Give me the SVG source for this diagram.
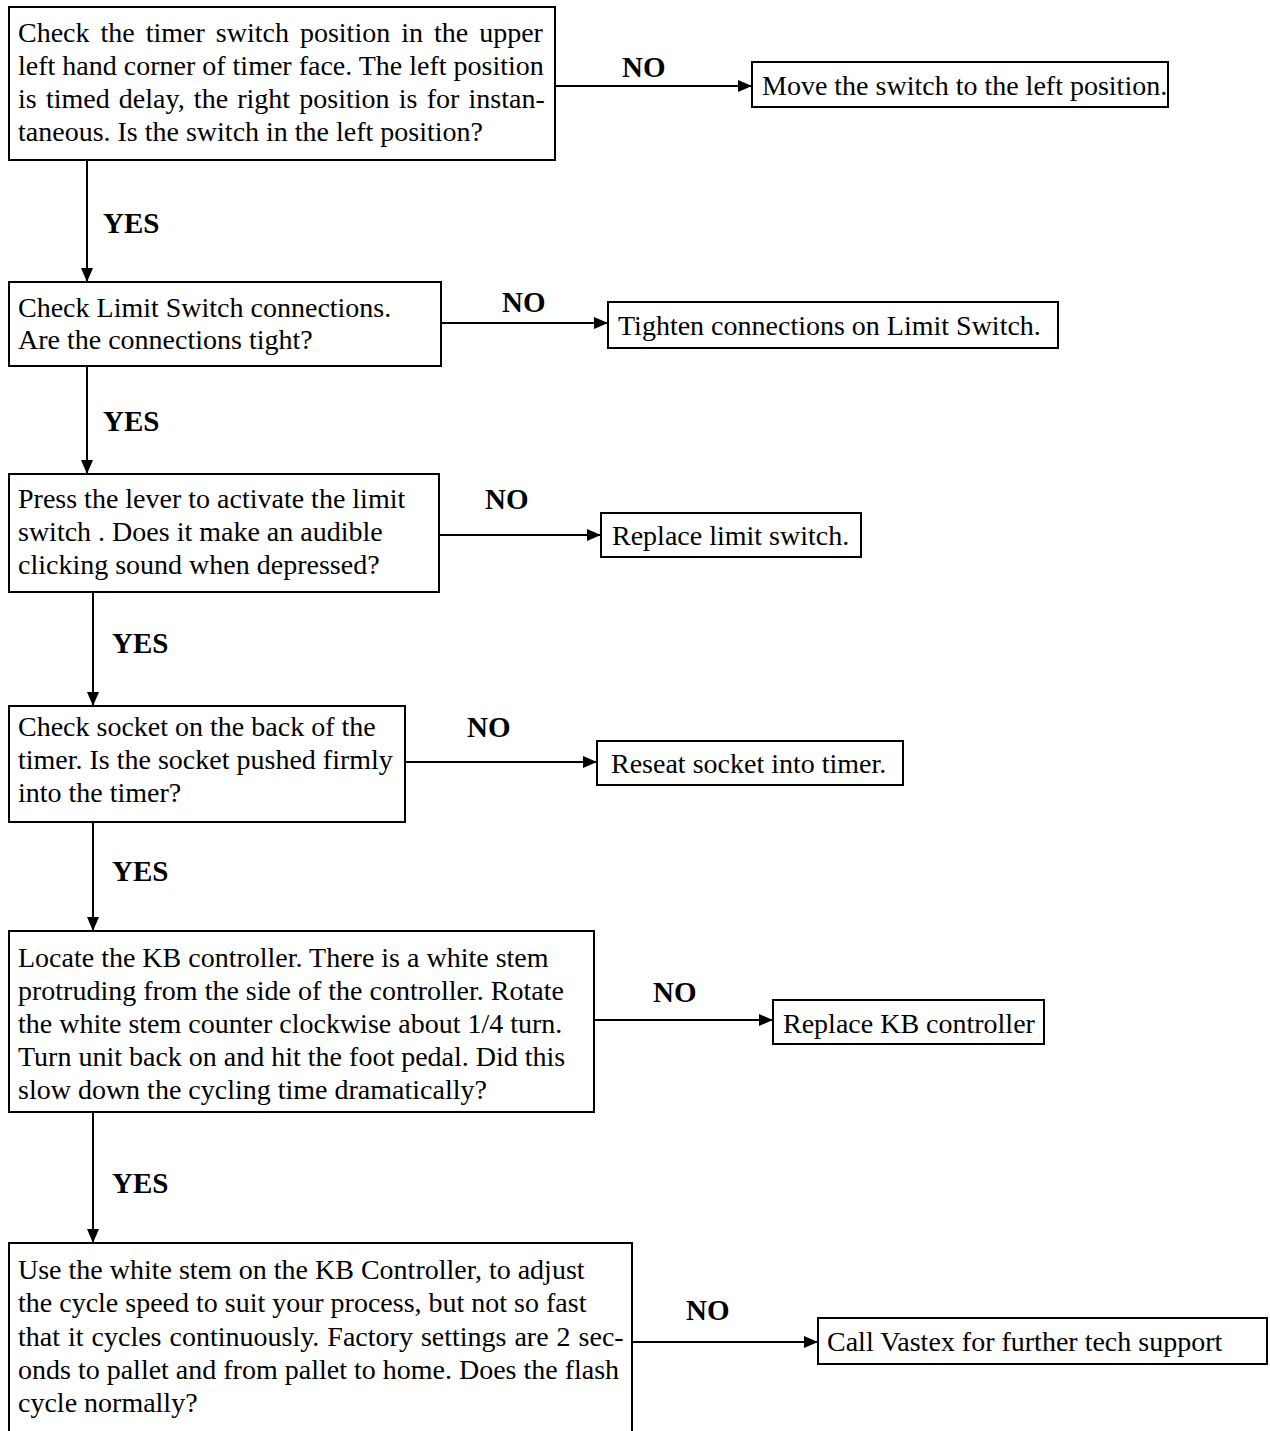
<svg xmlns="http://www.w3.org/2000/svg" width="1270" height="1431" viewBox="0 0 1270 1431">
<style>
.box{fill:#fff;stroke:#000;stroke-width:2}
.t{font-family:"Liberation Serif","Times New Roman",serif;font-size:28px;fill:#000}
.lbl{font-family:"Liberation Serif","Times New Roman",serif;font-size:29px;font-weight:bold;fill:#000}
.ln{stroke:#000;stroke-width:2;fill:none}
</style>
<defs>
<marker id="ah" viewBox="0 0 14 12" refX="14" refY="6" markerWidth="14" markerHeight="12" markerUnits="userSpaceOnUse" orient="auto">
<path d="M0,0 L14,6 L0,12 z" fill="#000"/>
</marker>
</defs>
<rect width="1270" height="1431" fill="#fff"/>
<g id="connectors">
<line class="ln" x1="555" y1="86" x2="752" y2="86" marker-end="url(#ah)"/>
<line class="ln" x1="87" y1="160" x2="87" y2="282" marker-end="url(#ah)"/>
<line class="ln" x1="441" y1="323" x2="608" y2="323" marker-end="url(#ah)"/>
<line class="ln" x1="87" y1="366" x2="87" y2="474" marker-end="url(#ah)"/>
<line class="ln" x1="439" y1="535" x2="601" y2="535" marker-end="url(#ah)"/>
<line class="ln" x1="93" y1="592" x2="93" y2="706" marker-end="url(#ah)"/>
<line class="ln" x1="403" y1="762" x2="597" y2="762" marker-end="url(#ah)"/>
<line class="ln" x1="93" y1="822" x2="93" y2="931" marker-end="url(#ah)"/>
<line class="ln" x1="594" y1="1020" x2="773" y2="1020" marker-end="url(#ah)"/>
<line class="ln" x1="93" y1="1112" x2="93" y2="1243" marker-end="url(#ah)"/>
<line class="ln" x1="632" y1="1342" x2="818" y2="1342" marker-end="url(#ah)"/>
<text class="lbl" x="622" y="77">NO</text>
<text class="lbl" x="103" y="233">YES</text>
<text class="lbl" x="502" y="312">NO</text>
<text class="lbl" x="103" y="431">YES</text>
<text class="lbl" x="485" y="509">NO</text>
<text class="lbl" x="112" y="653">YES</text>
<text class="lbl" x="467" y="737">NO</text>
<text class="lbl" x="112" y="881">YES</text>
<text class="lbl" x="653" y="1002">NO</text>
<text class="lbl" x="112" y="1193">YES</text>
<text class="lbl" x="686" y="1320">NO</text>
</g>
<g id="q1">
<rect class="box" x="9" y="7" width="546" height="153"/>
<text class="t" x="18" y="42" word-spacing="4">Check the timer switch position in the upper</text>
<text class="t" x="18" y="75">left hand corner of timer face. The left position</text>
<text class="t" x="18" y="108" word-spacing="2.2">is timed delay, the right position is for instan-</text>
<text class="t" x="18" y="141">taneous. Is the switch in the left position?</text>
</g>
<g id="a1">
<rect class="box" x="752" y="62" width="416" height="45"/>
<text class="t" x="762" y="95">Move the switch to the left position.</text>
</g>
<g id="q2">
<rect class="box" x="9" y="282" width="432" height="84"/>
<text class="t" x="18" y="317">Check Limit Switch connections.</text>
<text class="t" x="18" y="349">Are the connections tight?</text>
</g>
<g id="a2">
<rect class="box" x="608" y="302" width="450" height="46"/>
<text class="t" x="618" y="335">Tighten connections on Limit Switch.</text>
</g>
<g id="q3">
<rect class="box" x="9" y="474" width="430" height="118"/>
<text class="t" x="18" y="508">Press the lever to activate the limit</text>
<text class="t" x="18" y="541">switch . Does it make an audible</text>
<text class="t" x="18" y="574">clicking sound when depressed?</text>
</g>
<g id="a3">
<rect class="box" x="601" y="513" width="260" height="44"/>
<text class="t" x="612" y="545">Replace limit switch.</text>
</g>
<g id="q4">
<rect class="box" x="9" y="706" width="396" height="116"/>
<text class="t" x="18" y="736">Check socket on the back of the</text>
<text class="t" x="18" y="769">timer. Is the socket pushed firmly</text>
<text class="t" x="18" y="802">into the timer?</text>
</g>
<g id="a4">
<rect class="box" x="597" y="741" width="306" height="44"/>
<text class="t" x="611" y="773">Reseat socket into timer.</text>
</g>
<g id="q5">
<rect class="box" x="9" y="931" width="585" height="181"/>
<text class="t" x="18" y="967">Locate the KB controller. There is a white stem</text>
<text class="t" x="18" y="1000">protruding from the side of the controller. Rotate</text>
<text class="t" x="18" y="1033">the white stem counter clockwise about 1/4 turn.</text>
<text class="t" x="18" y="1066">Turn unit back on and hit the foot pedal. Did this</text>
<text class="t" x="18" y="1099">slow down the cycling time dramatically?</text>
</g>
<g id="a5">
<rect class="box" x="773" y="1000" width="271" height="44"/>
<text class="t" x="783" y="1033">Replace KB controller</text>
</g>
<g id="q6">
<rect class="box" x="9" y="1243" width="623" height="220"/>
<text class="t" x="18" y="1279">Use the white stem on the KB Controller, to adjust</text>
<text class="t" x="18" y="1312">the cycle speed to suit your process, but not so fast</text>
<text class="t" x="18" y="1346" word-spacing="1">that it cycles continuously. Factory settings are 2 sec-</text>
<text class="t" x="18" y="1379">onds to pallet and from pallet to home. Does the flash</text>
<text class="t" x="18" y="1412">cycle normally?</text>
</g>
<g id="a6">
<rect class="box" x="818" y="1318" width="449" height="46"/>
<text class="t" x="827" y="1351">Call Vastex for further tech support</text>
</g>
</svg>
